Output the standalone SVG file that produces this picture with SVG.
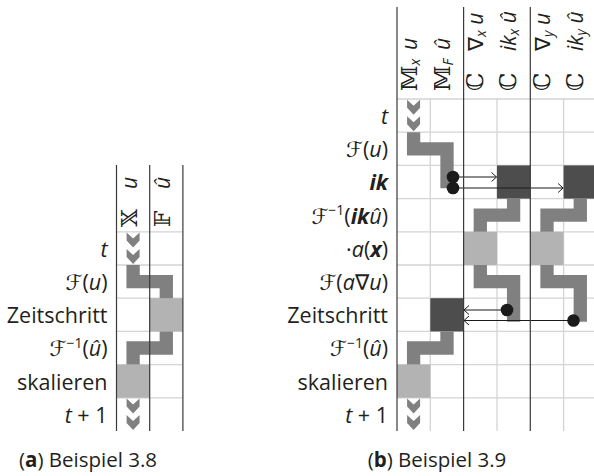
<svg xmlns="http://www.w3.org/2000/svg" xmlns:xlink="http://www.w3.org/1999/xlink" width="594" height="476" viewBox="0 0 594 476">
<style>
.lbl{font-family:"Open Sans","DejaVu Sans",sans-serif;font-size:21.5px;fill:#231f20;text-anchor:end}
.cap{font-family:"Open Sans","DejaVu Sans",sans-serif;font-size:20.5px;fill:#231f20;text-anchor:middle}
.hd{font-family:"Open Sans","DejaVu Sans",sans-serif;font-size:21px;fill:#231f20}
.bb{font-family:"DejaVu Serif","DejaVu Sans",serif;font-size:23px}
.it{font-style:italic}
.bi{font-style:italic;font-weight:bold}
.sub{font-size:14px;font-style:italic}
.sup{font-size:14px}
.grid{stroke:#d4d4d4;stroke-width:1.3;fill:none}
.bl{stroke:#3a3a3a;stroke-width:1.2;fill:none}
.pipe{stroke:#808080;stroke-width:13.3;fill:none;stroke-linejoin:miter;stroke-linecap:butt}
.dark{fill:#4d4d4d}
.light{fill:#b3b3b3}
.arr{stroke:#1a1a1a;stroke-width:1.2;fill:none}
.dot{fill:#1a1a1a}
.chev{fill:#808080}
</style>
<defs>
<g id="chev">
<polygon class="chev" points="-6.5,0 0,6 6.5,0 6.5,8 0,15 -6.5,8"/>
<polygon class="chev" points="-6.5,16.5 0,22.5 6.5,16.5 6.5,24.5 0,31.5 -6.5,24.5"/>
</g>
<marker id="ah" markerWidth="8" markerHeight="12" refX="6" refY="6" orient="auto" markerUnits="userSpaceOnUse">
<path d="M1,1.5 L6,6 L1,10.5" fill="none" stroke="#1a1a1a" stroke-width="1"/>
</marker>
</defs>

<!-- ===== (a) ===== -->
<g id="gridA">
<path class="grid" d="M116.5,231.8H182.9M116.5,265H182.9M116.5,298.2H182.9M116.5,331.4H182.9M116.5,364.6H182.9M116.5,397.8H182.9"/>
</g>
<g id="blocksA">
<rect class="light" x="149.7" y="298.2" width="33.2" height="33.2"/>
<rect class="light" x="116.5" y="364.6" width="33.2" height="33.2"/>
<use xlink:href="#chev" x="133.1" y="232.6"/>
<use xlink:href="#chev" x="133.1" y="398.6"/>
</g>
<g id="connectorsA">
<path class="pipe" d="M133.1,265V281.6H166.3V298.2"/>
<path class="pipe" d="M166.3,331.4V348H133.1V364.6"/>
</g>
<g id="linesA">
<path class="bl" d="M116.5,165V431M149.7,165V431M182.9,165V431"/>
</g>
<g id="headA">
<text class="hd" transform="translate(137,227) rotate(-90)"><tspan class="bb">𝕏</tspan></text>
<text class="hd it" transform="translate(137,189) rotate(-90)">u</text>
<text class="hd" transform="translate(169.5,227) rotate(-90)"><tspan class="bb">𝔽</tspan></text>
<text class="hd it" transform="translate(169.5,189) rotate(-90)">û</text>
</g>
<g id="labelsA">
<text class="lbl it" x="107.5" y="256.8">t</text>
<text class="lbl" x="107.5" y="290">ℱ(<tspan class="it">u</tspan>)</text>
<text class="lbl" x="107.5" y="323.2">Zeitschritt</text>
<text class="lbl" x="107.5" y="356.4">ℱ<tspan class="sup" dy="-8.5">−1</tspan><tspan dy="8.5">(</tspan><tspan class="it">û</tspan>)</text>
<text class="lbl" x="107.5" y="389.6">skalieren</text>
<text class="lbl" x="107.5" y="422.8"><tspan class="it">t</tspan> + 1</text>
</g>

<!-- ===== (b) ===== -->
<g id="gridB">
<path class="grid" d="M397,99H594M397,132.2H594M397,165.4H594M397,198.6H594M397,231.8H594M397,265H594M397,298.2H594M397,331.4H594M397,364.6H594M397,397.8H594"/>
<path class="grid" d="M430.3,99V431M497,99V431M563.6,99V431"/>
</g>
<g id="blocksB">
<rect class="dark" x="497" y="165.4" width="33.3" height="33.2"/>
<rect class="dark" x="563.6" y="165.4" width="33.4" height="33.2"/>
<rect class="light" x="463.6" y="231.8" width="33.4" height="33.2"/>
<rect class="light" x="530.3" y="231.8" width="33.3" height="33.2"/>
<rect class="dark" x="430.3" y="298.2" width="33.3" height="33.2"/>
<rect class="light" x="397" y="364.6" width="33.3" height="33.2"/>
<use xlink:href="#chev" x="413.6" y="99.8"/>
<use xlink:href="#chev" x="413.6" y="398.6"/>
</g>
<g id="connectorsB">
<path class="pipe" d="M413.6,132.2V148.8H447V188.3"/>
<path class="pipe" d="M513.6,198.6V215.2H480.3V231.8"/>
<path class="pipe" d="M580.3,198.6V215.2H547V231.8"/>
<path class="pipe" d="M480.3,265V281.6H513.6V321.7"/>
<path class="pipe" d="M547,265V281.6H580.3V321.7"/>
<path class="pipe" d="M447,331.4V348H413.6V364.6"/>
<line class="arr" x1="453" y1="177" x2="496.5" y2="177" marker-end="url(#ah)"/>
<line class="arr" x1="453" y1="188" x2="563.1" y2="188" marker-end="url(#ah)"/>
<line class="arr" x1="507" y1="310" x2="464" y2="310" marker-end="url(#ah)"/>
<line class="arr" x1="573.5" y1="320.5" x2="464" y2="320.5" marker-end="url(#ah)"/>
<circle class="dot" cx="453" cy="177" r="6.3"/>
<circle class="dot" cx="453" cy="188" r="6.3"/>
<circle class="dot" cx="507" cy="310" r="6.3"/>
<circle class="dot" cx="573.5" cy="320.5" r="6.3"/>
</g>
<g id="linesB">
<path class="bl" d="M397,7V431M463.6,7V431M530.3,7V431"/>
</g>
<g id="headB">
<text class="hd" transform="translate(416.5,91) rotate(-90)"><tspan class="bb">𝕄</tspan><tspan class="sub" dy="3">x</tspan></text>
<text class="hd it" transform="translate(416.5,50) rotate(-90)">u</text>
<text class="hd" transform="translate(449.8,91) rotate(-90)"><tspan class="bb">𝕄</tspan><tspan class="sub" dy="3">F</tspan></text>
<text class="hd it" transform="translate(449.8,50) rotate(-90)">û</text>
<text class="hd" transform="translate(483.1,91) rotate(-90)"><tspan class="bb">ℂ</tspan></text>
<text class="hd" transform="translate(483.1,51) rotate(-90)">∇<tspan class="sub" dy="3">x</tspan><tspan class="it" dy="-3"> u</tspan></text>
<text class="hd" transform="translate(516.4,91) rotate(-90)"><tspan class="bb">ℂ</tspan></text>
<text class="hd it" transform="translate(516.4,51) rotate(-90)">ik<tspan class="sub" dy="3">x</tspan><tspan dy="-3"> û</tspan></text>
<text class="hd" transform="translate(549.7,91) rotate(-90)"><tspan class="bb">ℂ</tspan></text>
<text class="hd" transform="translate(549.7,51) rotate(-90)">∇<tspan class="sub" dy="3">y</tspan><tspan class="it" dy="-3"> u</tspan></text>
<text class="hd" transform="translate(583,91) rotate(-90)"><tspan class="bb">ℂ</tspan></text>
<text class="hd it" transform="translate(583,51) rotate(-90)">ik<tspan class="sub" dy="3">y</tspan><tspan dy="-3"> û</tspan></text>
</g>
<g id="labelsB">
<text class="lbl it" x="388" y="123.9">t</text>
<text class="lbl" x="388" y="157.1">ℱ(<tspan class="it">u</tspan>)</text>
<text class="lbl bi" x="388" y="190.3">ik</text>
<text class="lbl" x="388" y="223.5">ℱ<tspan class="sup" dy="-8.5">−1</tspan><tspan dy="8.5">(</tspan><tspan class="bi">ik</tspan><tspan class="it">û</tspan>)</text>
<text class="lbl" x="388" y="256.7">·<tspan class="it">a</tspan>(<tspan class="bi">x</tspan>)</text>
<text class="lbl" x="388" y="289.9">ℱ(<tspan class="it">a</tspan>∇<tspan class="it">u</tspan>)</text>
<text class="lbl" x="388" y="323.1">Zeitschritt</text>
<text class="lbl" x="388" y="356.3">ℱ<tspan class="sup" dy="-8.5">−1</tspan><tspan dy="8.5">(</tspan><tspan class="it">û</tspan>)</text>
<text class="lbl" x="388" y="389.5">skalieren</text>
<text class="lbl" x="388" y="422.7"><tspan class="it">t</tspan> + 1</text>
</g>

<g id="captions">
<text class="cap" x="88" y="467">(<tspan font-weight="bold">a</tspan>) Beispiel 3.8</text>
<text class="cap" x="437" y="467">(<tspan font-weight="bold">b</tspan>) Beispiel 3.9</text>
</g>
</svg>
